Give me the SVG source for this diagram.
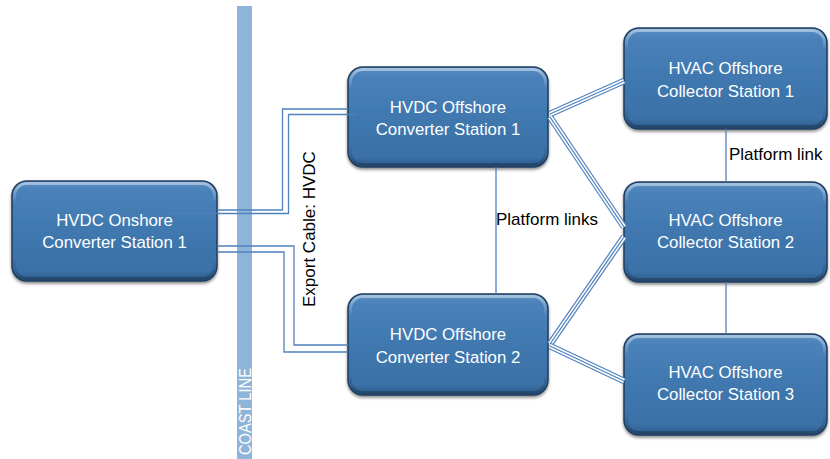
<svg xmlns="http://www.w3.org/2000/svg" width="830" height="459" viewBox="0 0 830 459">
<defs>
<linearGradient id="g" x1="0" y1="0" x2="0" y2="1">
<stop offset="0" stop-color="#5B8EC5"/>
<stop offset="0.1" stop-color="#4A81B9"/>
<stop offset="0.5" stop-color="#3F78AF"/>
<stop offset="0.9" stop-color="#3A71A7"/>
<stop offset="1" stop-color="#2D5A8A"/>
</linearGradient>
<linearGradient id="hg" x1="0" y1="0" x2="0" y2="1">
<stop offset="0" stop-color="#FFFFFF" stop-opacity="0.45"/>
<stop offset="0.2" stop-color="#FFFFFF" stop-opacity="0"/>
<stop offset="0.8" stop-color="#000000" stop-opacity="0"/>
<stop offset="1" stop-color="#000000" stop-opacity="0.25"/>
</linearGradient>
<filter id="sh" x="-10%" y="-10%" width="120%" height="130%">
<feDropShadow dx="0" dy="2" stdDeviation="1.8" flood-color="#000" flood-opacity="0.45"/>
</filter>
</defs>
<style>
.box{fill:url(#g);stroke:#1F3D5F;stroke-width:1.5;filter:url(#sh)}
.hl{fill:none;stroke:url(#hg);stroke-width:3}
.lbl{font-family:"Liberation Sans",Arial,sans-serif;font-size:16.8px;fill:#FFFFFF;text-anchor:middle}
.txt{font-family:"Liberation Sans",Arial,sans-serif;font-size:17px;fill:#000000}
.ln{fill:none;stroke:#4F81BD;stroke-width:1.3}
.ta{fill:none;stroke:#4F81BD;stroke-width:6.6}
.tb{fill:none;stroke:#FFFFFF;stroke-width:4.2}
.tc{fill:none;stroke:#4F81BD;stroke-width:1.3}
</style>
<rect width="830" height="459" fill="#FFFFFF"/>
<g id="coastline">
<rect x="237" y="6" width="15" height="453" fill="#8EB4D9"/>
<text transform="translate(251,455) rotate(-90)" font-family="'Liberation Sans',Arial,sans-serif" font-size="16" fill="#FFFFFF" textLength="87" lengthAdjust="spacingAndGlyphs">COAST LINE</text>
</g>
<g id="onshore1">
<rect class="box" x="12" y="181" width="205" height="100" rx="15"/>
<rect class="hl" x="14.5" y="183.5" width="200" height="95" rx="12.5"/>
<text class="lbl" x="114.5" y="225.5">HVDC Onshore</text>
<text class="lbl" x="114.5" y="248">Converter Station 1</text>
</g>
<g id="conv1">
<rect class="box" x="348" y="67" width="200" height="100" rx="15"/>
<rect class="hl" x="350.5" y="69.5" width="195" height="95" rx="12.5"/>
<text class="lbl" x="448" y="112.5">HVDC Offshore</text>
<text class="lbl" x="448" y="135">Converter Station 1</text>
</g>
<g id="conv2">
<rect class="box" x="348" y="294" width="200" height="101" rx="15"/>
<rect class="hl" x="350.5" y="296.5" width="195" height="96" rx="12.5"/>
<text class="lbl" x="448" y="340">HVDC Offshore</text>
<text class="lbl" x="448" y="362.5">Converter Station 2</text>
</g>
<g id="coll1">
<rect class="box" x="624" y="28" width="203" height="101" rx="15"/>
<rect class="hl" x="626.5" y="30.5" width="198" height="96" rx="12.5"/>
<text class="lbl" x="725.5" y="74">HVAC Offshore</text>
<text class="lbl" x="725.5" y="96.5">Collector Station 1</text>
</g>
<g id="coll2">
<rect class="box" x="624" y="182" width="203" height="100" rx="15"/>
<rect class="hl" x="626.5" y="184.5" width="198" height="95" rx="12.5"/>
<text class="lbl" x="725.5" y="225.5">HVAC Offshore</text>
<text class="lbl" x="725.5" y="248">Collector Station 2</text>
</g>
<g id="coll3">
<rect class="box" x="624" y="334" width="203" height="101" rx="15"/>
<rect class="hl" x="626.5" y="336.5" width="198" height="96" rx="12.5"/>
<text class="lbl" x="725.5" y="377.5">HVAC Offshore</text>
<text class="lbl" x="725.5" y="400">Collector Station 3</text>
</g>
<g id="connectors">
<polyline class="ln" points="217,210 282.5,210 282.5,109 348,109"/>
<polyline class="ln" points="167,213.5 288.5,213.5 288.5,114.5 355,114.5"/>
<polyline class="ln" points="217,246 294,246 294,345 348,345"/>
<polyline class="ln" points="217,252 284,252 284,352 348,352"/>
<line class="ln" x1="496" y1="167" x2="496" y2="294"/>
<line class="ln" x1="726" y1="129" x2="726" y2="182"/>
<line class="ln" x1="726" y1="282" x2="726" y2="334"/>
<g>
<line class="ta" x1="550" y1="114" x2="624" y2="81"/>
<line class="tb" x1="550" y1="114" x2="624" y2="81"/>
<line class="tc" x1="550" y1="114" x2="624" y2="81"/>
<line class="ta" x1="550" y1="117" x2="624" y2="227"/>
<line class="tb" x1="550" y1="117" x2="624" y2="227"/>
<line class="tc" x1="550" y1="117" x2="624" y2="227"/>
<line class="ta" x1="550" y1="344" x2="624" y2="237"/>
<line class="tb" x1="550" y1="344" x2="624" y2="237"/>
<line class="tc" x1="550" y1="344" x2="624" y2="237"/>
<line class="ta" x1="550" y1="346" x2="624" y2="381"/>
<line class="tb" x1="550" y1="346" x2="624" y2="381"/>
<line class="tc" x1="550" y1="346" x2="624" y2="381"/>
</g>
<text class="txt" x="496" y="225">Platform links</text>
<text class="txt" x="729" y="160">Platform link</text>
<text class="txt" transform="translate(315,307) rotate(-90)">Export Cable: HVDC</text>
</g>
</svg>
